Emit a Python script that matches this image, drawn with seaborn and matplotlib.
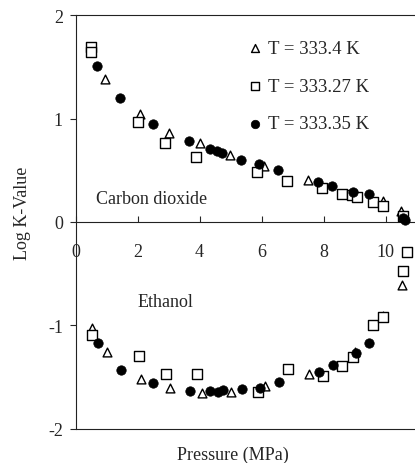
import numpy as np
import pandas as pd
import seaborn as sns
import matplotlib.pyplot as plt

# carbon dioxide, three isotherms
co2_tri_p = [0.49, 0.95, 2.08, 3.03, 4.02, 4.98, 6.09, 7.51, 9.91, 10.49, 10.57]
co2_tri_k = [1.675, 1.38, 1.04, 0.86, 0.76, 0.65, 0.54, 0.41, 0.20, 0.11, 0.07]
co2_sq_p = [0.50, 0.50, 2.00, 2.89, 3.89, 5.85, 6.83, 7.94, 8.59, 8.91, 9.07, 9.61, 9.91, 10.57]
co2_sq_k = [1.69, 1.64, 0.97, 0.76, 0.63, 0.48, 0.40, 0.33, 0.27, 0.26, 0.24, 0.19, 0.15, 0.06]
co2_ci_p = [0.70, 1.44, 2.49, 3.67, 4.34, 4.55, 4.72, 5.34, 5.92, 6.52, 7.83, 8.28, 8.96, 9.47, 10.57, 10.62]
co2_ci_k = [1.51, 1.20, 0.95, 0.78, 0.71, 0.69, 0.67, 0.60, 0.56, 0.50, 0.39, 0.35, 0.29, 0.27, 0.04, 0.02]

# ethanol
eth_tri_p = [0.54, 1.01, 2.11, 3.05, 4.07, 5.00, 6.11, 7.54, 9.02, 9.91, 10.52, 10.57, 10.68]
eth_tri_k = [-1.02, -1.26, -1.52, -1.60, -1.65, -1.64, -1.58, -1.47, -1.26, -0.91, -0.61, -0.47, -0.29]
eth_sq_p = [0.52, 2.04, 2.92, 3.93, 5.88, 6.84, 7.97, 8.60, 8.96, 9.61, 9.91, 10.55, 10.68]
eth_sq_k = [-1.09, -1.29, -1.47, -1.47, -1.64, -1.42, -1.49, -1.39, -1.30, -1.00, -0.92, -0.47, -0.29]
eth_ci_p = [0.74, 1.47, 2.51, 3.69, 4.34, 4.58, 4.77, 5.36, 5.95, 6.56, 7.86, 8.29, 9.04, 9.47]
eth_ci_k = [-1.17, -1.43, -1.56, -1.63, -1.63, -1.64, -1.62, -1.61, -1.60, -1.55, -1.45, -1.38, -1.27, -1.17]

labels = ['T = 333.4 K', 'T = 333.27 K', 'T = 333.35 K']
x_ticks = [0, 2, 4, 6, 8, 10]
y_ticks = [-2, -1, 0, 1, 2]

sns.set_style('ticks')
plt.rcParams['font.family'] = ['Liberation Serif', 'DejaVu Serif']
plt.rcParams['axes.unicode_minus'] = False

fig = plt.figure(figsize=(4.15, 4.64), dpi=100)
ax = fig.add_axes([0.182, 0.0733, 0.818, 0.8922])

styles = [dict(marker='^', s=40, color='white', edgecolor='black', linewidth=1.0),
          dict(marker='s', s=48, color='white', edgecolor='black', linewidth=1.0),
          dict(marker='o', s=46, color='black', edgecolor='black', linewidth=0.5)]

series = [(co2_tri_p, co2_tri_k, eth_tri_p, eth_tri_k),
          (co2_sq_p, co2_sq_k, eth_sq_p, eth_sq_k),
          (co2_ci_p, co2_ci_k, eth_ci_p, eth_ci_k)]

for (cp, ck, ep, ek), lab, st in zip(series, labels, styles):
    df = pd.DataFrame({'P': cp + ep, 'K': ck + ek})
    sns.scatterplot(data=df, x='P', y='K', ax=ax, label=lab, clip_on=False, zorder=3, **st)

ax.set_xlim(0, 10.95)
ax.set_ylim(-2, 2)
ax.set_xticks(x_ticks)
ax.set_yticks(y_ticks)
ax.set_yticklabels([str(v) for v in y_ticks])

ax.spines['bottom'].set_position(('data', 0))
ax.spines['right'].set_visible(False)
for sp in ['bottom', 'left', 'top']:
    ax.spines[sp].set_linewidth(0.8)
    ax.spines[sp].set_color('#222222')
ax.axhline(-2, color='#222222', lw=0.8, clip_on=False)

ax.tick_params(axis='x', direction='in', length=4, width=0.8, pad=15, labelsize=13)
ax.tick_params(axis='y', direction='out', length=4, width=0.8, pad=5, labelsize=13)

ax.set_xlabel('Pressure (MPa)', fontsize=13)
ax.set_ylabel('Log K-Value', fontsize=13)
ax.xaxis.set_label_coords(0.464, -0.040)
ax.yaxis.set_label_coords(-0.13, 0.524)

ax.text(0.65, 0.18, 'Carbon dioxide', fontsize=13, va='baseline')
ax.text(2.0, -0.77, 'Ethanol', fontsize=13, va='center')

ax.legend(loc='upper left', bbox_to_anchor=(0.508, 0.94), frameon=False, fontsize=13.5,
          handlelength=0.8, handletextpad=0.25, labelspacing=1.1, borderpad=0,
          borderaxespad=0, markerscale=0.9)

fig.savefig('out.png', dpi=100)
